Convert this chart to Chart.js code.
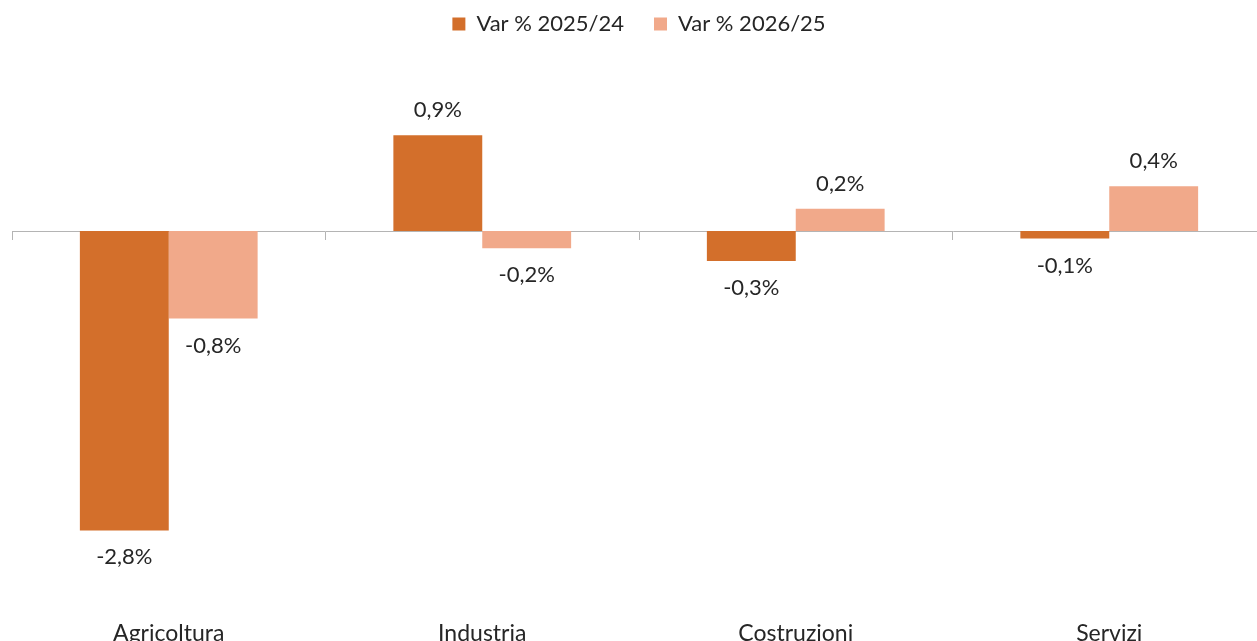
<!DOCTYPE html>
<html>
<head>
<meta charset="utf-8">
<script src="https://cdn.jsdelivr.net/npm/chart.js@4/dist/chart.umd.min.js"></script>
<style>
  html, body { margin: 0; padding: 0; background: #ffffff; overflow: hidden; width: 1257px; height: 641px; }
  #wrap { position: absolute; left: 0; top: 0; width: 1266px; height: 660px; }
</style>
</head>
<body>
<div id="wrap"><canvas id="c"></canvas></div>
<script>
const categories = ['Agricoltura', 'Industria', 'Costruzioni', 'Servizi'];
const seriesNames = ['Var % 2025/24', 'Var % 2026/25'];
const var2025 = [-2.81, 0.90, -0.28, -0.07];
const var2026 = [-0.82, -0.16, 0.21, 0.42];
const colors = ['#D36F2B', '#F1A98A'];

const FONT = 'Lato, "Open Sans", sans-serif';
const TEXT = '#262626';

function fmt(v) {
  return v.toFixed(1).replace('.', ',') + '%';
}

const dataLabels = {
  id: 'dataLabels',
  afterDatasetsDraw(chart) {
    const ctx = chart.ctx;
    ctx.save();
    ctx.font = '22px ' + FONT;
    ctx.fillStyle = TEXT;
    ctx.textAlign = 'center';
    ctx.textBaseline = 'middle';
    chart.data.datasets.forEach((ds, di) => {
      const meta = chart.getDatasetMeta(di);
      meta.data.forEach((el, i) => {
        const v = ds.data[i];
        const y = v >= 0 ? el.y - 25 : el.y + 27;
        ctx.fillText(fmt(v), el.x, y);
      });
    });
    ctx.restore();
  }
};

new Chart(document.getElementById('c'), {
  type: 'bar',
  data: {
    labels: categories,
    datasets: [
      { label: seriesNames[0], data: var2025, backgroundColor: colors[0], xAxisID: 'x' },
      { label: seriesNames[1], data: var2026, backgroundColor: colors[1], xAxisID: 'x' }
    ]
  },
  options: {
    responsive: true,
    maintainAspectRatio: false,
    animation: false,
    devicePixelRatio: 1,
    layout: { padding: { left: 12, right: 0, top: -17, bottom: -35 } },
    datasets: { bar: { categoryPercentage: 0.567, barPercentage: 1.0, borderWidth: 0 } },
    plugins: {
      legend: {
        position: 'top',
        align: 'center',
        labels: {
          font: { family: FONT, size: 22 },
          color: TEXT,
          boxWidth: 13,
          boxHeight: 13,
          padding: 30
        }
      },
      tooltip: { enabled: false }
    },
    scales: {
      x: {
        position: 'bottom',
        grid: { display: false, drawTicks: false },
        border: { display: false },
        ticks: { font: { family: FONT, size: 23 }, color: TEXT, padding: 48, maxRotation: 0 }
      },
      x0: {
        type: 'category',
        labels: categories,
        position: { y: 0 },
        offset: true,
        grid: { display: true, offset: true, drawOnChartArea: false, drawTicks: true, tickLength: 8, color: '#B4B4B4', lineWidth: 1 },
        border: { display: true, color: '#B4B4B4', width: 1 },
        ticks: { display: false }
      },
      y: {
        display: false,
        min: -3.195,
        max: 1.747
      }
    }
  },
  plugins: [dataLabels]
});
</script>
</body>
</html>
